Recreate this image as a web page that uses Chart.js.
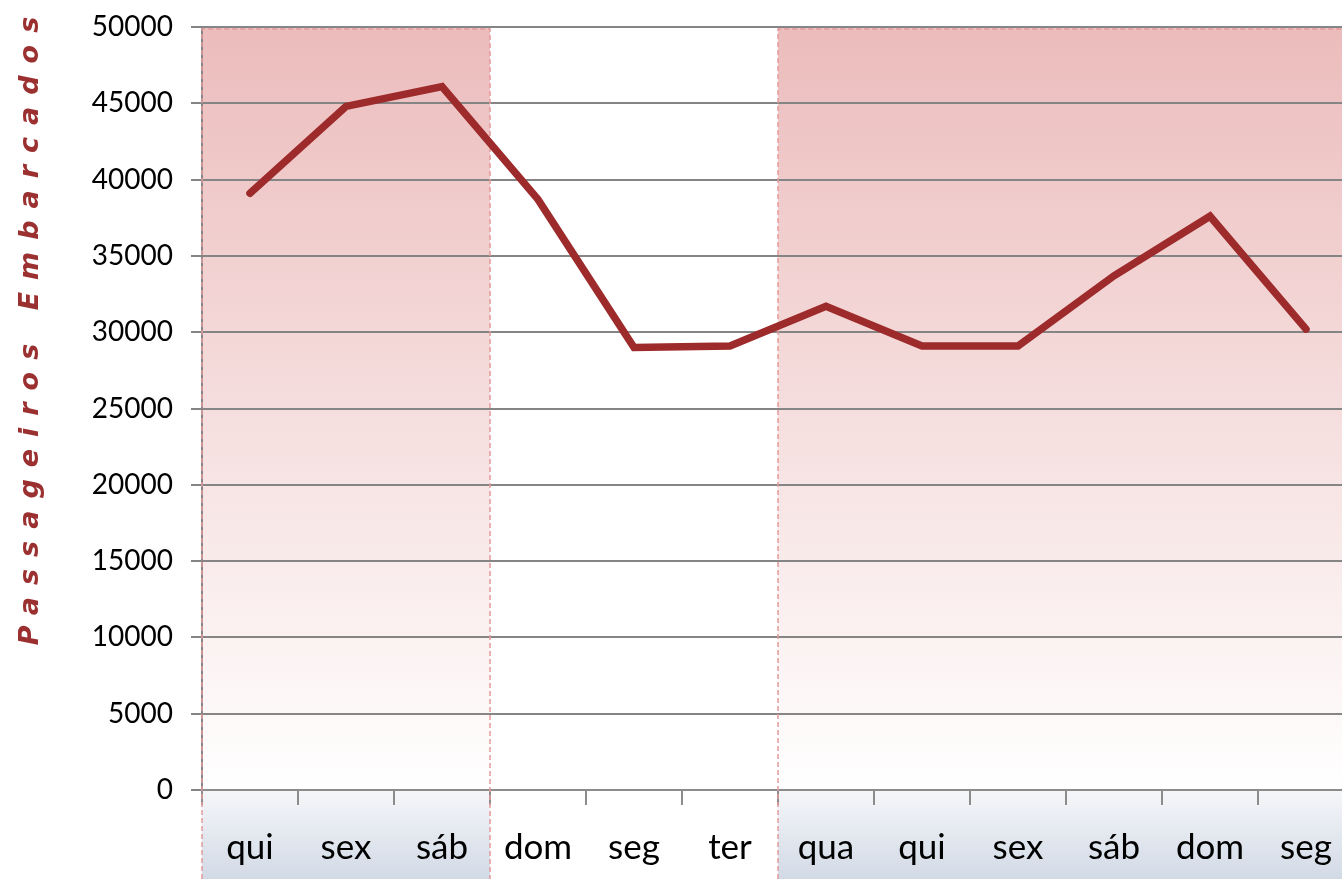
<!DOCTYPE html>
<html><head><meta charset="utf-8">
<script src="https://cdn.jsdelivr.net/npm/chart.js@4.4.0/dist/chart.umd.min.js"></script>
<style>html,body{margin:0;padding:0;overflow:hidden;background:#fff}#wrap{width:1354px;height:879px}</style>
</head><body><div id="wrap"><canvas id="c" width="1354" height="879"></canvas></div>
<script>
const categories = ['qui','sex','sáb','dom','seg','ter','qua','qui','sex','sáb','dom','seg'];
const passengers = [39100,44800,46100,38700,29000,29100,31700,29100,29100,33700,37600,30200];
const yMin = 0, yMax = 50000, yStep = 5000;
const shadedRanges = [[0,2],[6,11]];
const axisTitle = 'Passageiros Embarcados';

function bandEdges(chart, r){
  const x = chart.scales.x;
  const half = (x.getPixelForValue(1) - x.getPixelForValue(0)) / 2;
  return [x.getPixelForValue(r[0]) - half, Math.min(x.getPixelForValue(r[1]) + half, chart.chartArea.right)];
}

const bands = {
  id: 'bands',
  beforeDraw(chart){
    const {ctx, chartArea:a} = chart;
    ctx.save();
    const g = ctx.createLinearGradient(0, a.top, 0, a.bottom);
    g.addColorStop(0, '#ecbcbc');
    g.addColorStop(1, '#ffffff');
    const g2 = ctx.createLinearGradient(0, a.bottom, 0, chart.height);
    g2.addColorStop(0, '#f5f6f9');
    g2.addColorStop(1, '#d2dae6');
    shadedRanges.forEach(r => {
      const [l, rt] = bandEdges(chart, r);
      ctx.fillStyle = g;
      ctx.fillRect(l, a.top, rt - l, a.bottom - a.top);
      ctx.fillStyle = g2;
      ctx.fillRect(l, a.bottom, rt - l, chart.height - a.bottom);
    });
    ctx.restore();
  },
  beforeDatasetsDraw(chart){
    const {ctx, chartArea:a} = chart;
    ctx.save();
    ctx.strokeStyle = '#e39a9a';
    ctx.lineWidth = 1.5;
    ctx.setLineDash([5,3]);
    shadedRanges.forEach(r => {
      const [l, rt] = bandEdges(chart, r);
      ctx.beginPath();
      ctx.moveTo(l, chart.height); ctx.lineTo(l, a.top + 2); ctx.lineTo(rt, a.top + 2);
      if (rt < a.right - 1) ctx.lineTo(rt, chart.height);
      ctx.stroke();
    });
    ctx.restore();
  },
  afterDraw(chart){
    const ctx = chart.ctx;
    ctx.save();
    ctx.translate(31, 331);
    ctx.rotate(-Math.PI/2);
    ctx.font = 'italic bold 27px "DejaVu Sans"';
    ctx.letterSpacing = '12px';
    ctx.fillStyle = '#9b3030';
    ctx.textAlign = 'center';
    ctx.textBaseline = 'middle';
    ctx.fillText(axisTitle, 6, 0);
    ctx.restore();
  }
};

new Chart(document.getElementById('c'), {
  type: 'line',
  data: {
    labels: categories,
    datasets: [{
      data: passengers,
      borderColor: '#9e2b2b',
      borderWidth: 7.5,
      borderCapStyle: 'round',
      pointRadius: 0,
      tension: 0,
      fill: false
    }]
  },
  options: {
    responsive: false,
    animation: false,
    layout: { padding: { left: 60, top: 27, right: 0, bottom: 0 } },
    plugins: { legend: { display: false }, tooltip: { enabled: false } },
    scales: {
      x: {
        offset: true,
        grid: { offset: true, drawOnChartArea: false, drawTicks: true, tickLength: 15, color: '#8c8c8c', lineWidth: 2 },
        border: { display: true, color: '#8c8c8c', width: 2 },
        ticks: { color: '#000', font: { family: 'Lato', size: 35 }, padding: 22, maxRotation: 0, autoSkip: false },
        afterFit(s){ s.height = 89; s.paddingLeft = 0; s.paddingRight = 0; }
      },
      y: {
        min: yMin, max: yMax,
        grid: { color: '#858585', lineWidth: 2, tickLength: 11 },
        border: { display: true, color: '#858585', width: 2 },
        ticks: { stepSize: yStep, color: '#000', font: { family: 'Lato', size: 28 }, padding: 18, callback: v => String(v) },
        afterFit(s){ s.width = 142; s.paddingTop = 0; s.paddingBottom = 0; }
      }
    }
  },
  plugins: [bands]
});
</script></body></html>
